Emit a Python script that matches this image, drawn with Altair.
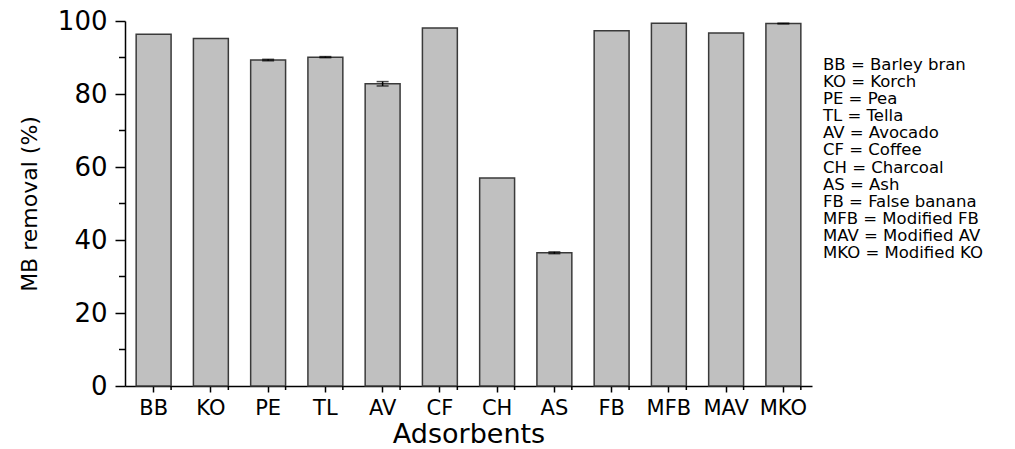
import altair as alt
import pandas as pd

# ---- data ----
adsorbents = ["BB", "KO", "PE", "TL", "AV", "CF", "CH", "AS", "FB", "MFB", "MAV", "MKO"]
removal = [96.4, 95.2, 89.3, 90.1, 82.8, 98.1, 57.0, 36.5, 97.3, 99.4, 96.7, 99.3]
error = [0.0, 0.0, 0.2, 0.15, 0.6, 0.0, 0.0, 0.25, 0.0, 0.0, 0.0, 0.1]
y_major = [0, 20, 40, 60, 80, 100]
y_minor = [10, 30, 50, 70, 90]
legend_lines = [
    "BB = Barley bran", "KO = Korch", "PE = Pea", "TL = Tella", "AV = Avocado",
    "CF = Coffee", "CH = Charcoal", "AS = Ash", "FB = False banana",
    "MFB = Modified FB", "MAV = Modified AV", "MKO = Modified KO",
]

df = pd.DataFrame({"ads": adsorbents, "removal": removal, "err": error})
df["lo"] = df["removal"] - df["err"]
df["hi"] = df["removal"] + df["err"]
minor_df = pd.DataFrame({"removal": y_minor})
legend_df = pd.DataFrame({"line": legend_lines, "i": list(range(len(legend_lines)))})

FONT = "DejaVu Sans"

xscale = alt.Scale(domain=adsorbents, paddingInner=0.39, paddingOuter=0.195)
yscale = alt.Scale(domain=[0, 100], nice=False)

base = alt.Chart(df)

bars = base.mark_bar(color="#c0c0c0", stroke="#3a3a3a", strokeWidth=1.5).encode(
    x=alt.X("ads:N", scale=xscale, sort=adsorbents,
            axis=alt.Axis(title="Adsorbents", labelAngle=0, labelFontSize=21,
                          labelFont=FONT, titleFont=FONT, titleFontSize=27,
                          titleFontWeight="normal", tickSize=6, labelPadding=5,
                          titlePadding=3)),
    y=alt.Y("removal:Q", scale=yscale,
            axis=alt.Axis(title="MB removal (%)", values=y_major, labelFontSize=26,
                          labelFont=FONT, titleFont=FONT, titleFontSize=22,
                          titleFontWeight="normal", tickSize=10, labelPadding=8,
                          titlePadding=16)),
)

err_rule = base.transform_filter("datum.err > 0").mark_rule(color="black", strokeWidth=1.5).encode(
    x=alt.X("ads:N", scale=xscale, sort=adsorbents),
    y=alt.Y("lo:Q", scale=yscale),
    y2="hi:Q",
)
err_lo = base.transform_filter("datum.err > 0").mark_tick(color="black", size=12, thickness=1.5).encode(
    x=alt.X("ads:N", scale=xscale, sort=adsorbents),
    y=alt.Y("lo:Q", scale=yscale),
)
err_hi = base.transform_filter("datum.err > 0").mark_tick(color="black", size=12, thickness=1.5).encode(
    x=alt.X("ads:N", scale=xscale, sort=adsorbents),
    y=alt.Y("hi:Q", scale=yscale),
)

# minor ticks on x (band boundaries)
x_minor = base.mark_rule(color="black", strokeWidth=1.5).encode(
    x=alt.X("ads:N", scale=xscale, sort=adsorbents, bandPosition=1),
    y=alt.value(365),
    y2=alt.value(369),
)
# minor ticks on y
y_minor_ticks = alt.Chart(minor_df).mark_rule(color="black", strokeWidth=1.5).encode(
    y=alt.Y("removal:Q", scale=yscale),
    x=alt.value(-6),
    x2=alt.value(0),
)

main = alt.layer(bars, err_rule, err_lo, err_hi, x_minor, y_minor_ticks)

legend = alt.Chart(legend_df).mark_text(align="left", baseline="middle", font=FONT,
                                        fontSize=16.5, color="black").encode(
    x=alt.value(698),
    y=alt.Y("i:Q", scale=alt.Scale(domain=[0, 11], range=[44, 232]), axis=None),
    text="line:N",
)

chart = alt.layer(main, legend).resolve_scale(y="independent").properties(
    width=687,
    height=365,
    autosize=alt.AutoSizeParams(type="none"),
    padding={"left": 125, "top": 21, "right": 203, "bottom": 63},
).configure_view(stroke=None).configure_axis(
    domainColor="black", tickColor="black", labelColor="black", titleColor="black",
    domainWidth=1.5, tickWidth=1.5, grid=False,
)

chart.save("out.html", embed_options={"renderer": "svg", "actions": False})
